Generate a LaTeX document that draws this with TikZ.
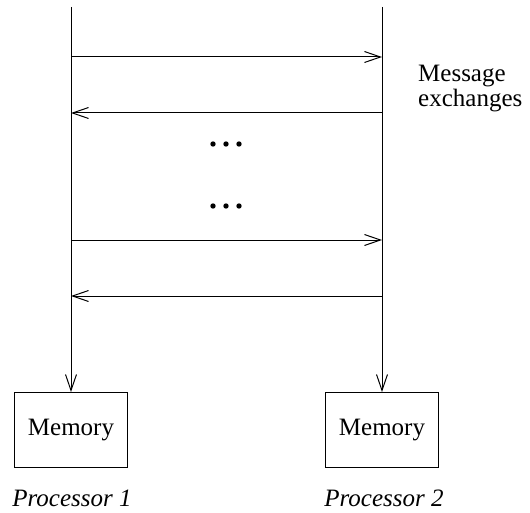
\documentclass[tikz,border=0pt]{standalone}
\usepackage{fontspec}
\setmainfont{Liberation Serif}
\usetikzlibrary{arrows.meta}

\tikzset{
  membox/.style={draw, line width=1pt, minimum width=113pt, minimum height=75pt, inner sep=0pt},
  msg/.style={line width=1pt, -{Straight Barb[length=16pt,width=11pt]}},
}

\begin{document}
\begin{tikzpicture}[x=1pt,y=-1pt,font=\fontsize{25}{25}\selectfont]
\useasboundingbox (0,0) rectangle (530,513);
\node [membox] (mem1) at (71,430) {Memory};
\node [membox] (mem2) at (382,430) {Memory};
\node [font=\fontsize{25}{25}\selectfont\itshape] (proc1) at (72,498) {Processor 1};
\node [font=\fontsize{25}{25}\selectfont\itshape] (proc2) at (384,498) {Processor 2};
\coordinate (top1) at (71,7);
\coordinate (top2) at (382,7);
\draw [msg] (top1) -- (mem1);
\draw [msg] (top2) -- (mem2);
% message exchanges
\coordinate (a1) at (71,57);  \coordinate (b1) at (382,57);
\coordinate (a2) at (71,113); \coordinate (b2) at (382,113);
\coordinate (a3) at (71,240); \coordinate (b3) at (382,240);
\coordinate (a4) at (71,296); \coordinate (b4) at (382,296);
\draw [msg] (a1) -- (b1);
\draw [msg] (b2) -- (a2);
\draw [msg] (a3) -- (b3);
\draw [msg] (b4) -- (a4);
\foreach \x in {213,226,239} {
  \fill (\x,144) circle (2.7pt);
  \fill (\x,206) circle (2.7pt);
}
\node [anchor=west, align=left, inner sep=0pt] (label) at (418,89) {Message\\exchanges};
\end{tikzpicture}
\end{document}
